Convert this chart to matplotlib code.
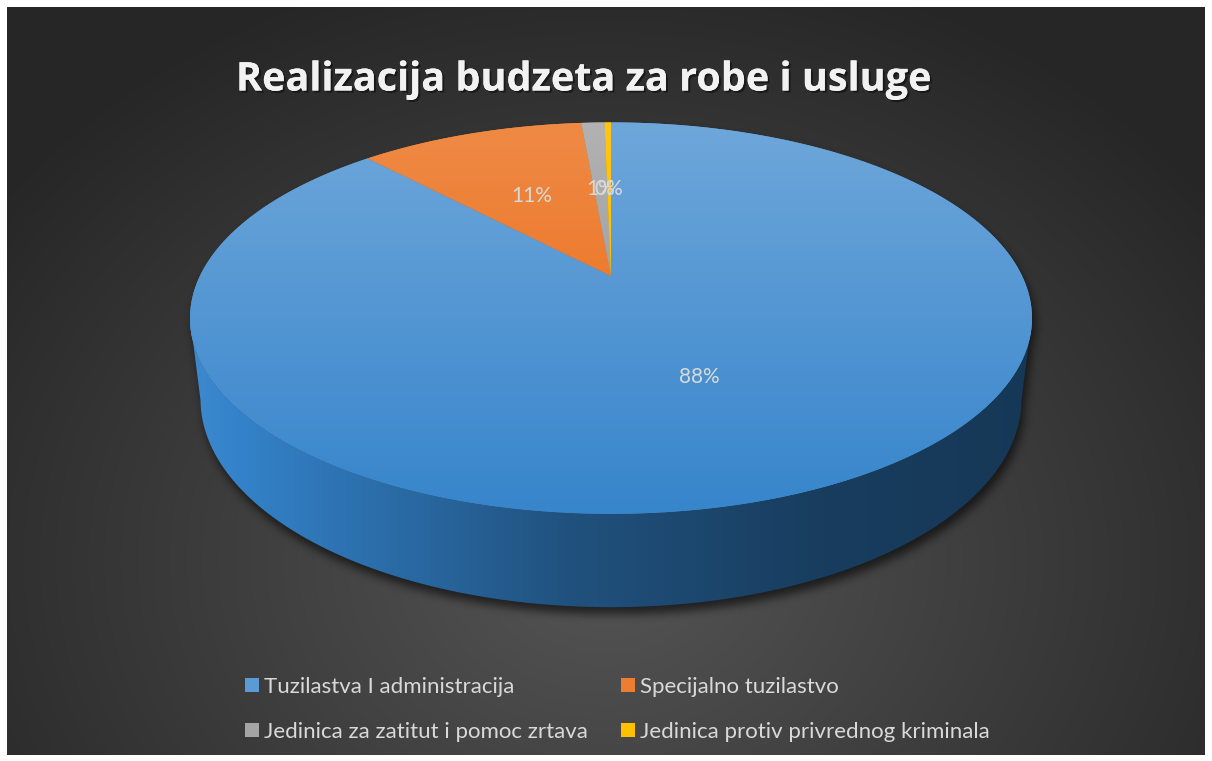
import numpy as np
import colorsys
import matplotlib
matplotlib.use('Agg')
import matplotlib.pyplot as plt
from matplotlib.path import Path
from matplotlib.patches import Polygon, Patch
from matplotlib.colors import to_rgb
import matplotlib.patheffects as pe

# ---------------- data ----------------
categories = ['Tuzilastva I administracija', 'Specijalno tuzilastvo',
              'Jedinica za zatitut i pomoc zrtava', 'Jedinica protiv privrednog kriminala']
values = [88.0, 10.6, 1.1, 0.3]
title = 'Realizacija budzeta za robe i usluge'
colors = ['#5b9bd5', '#ed7d31', '#a5a5a5', '#ffc000']

# ---------------- figure ----------------
W, Hh = 1212, 761
fig = plt.figure(figsize=(W / 100, Hh / 100), dpi=100, facecolor='white')
ax = fig.add_axes([0, 0, 1, 1])
ax.set_axis_off()

# background (radial gradient, dark)
bx0, bx1, by0, by1 = 7, 1205, 7, 755
yy, xx = np.mgrid[by0:by1, bx0:bx1]
rr = np.sqrt(((xx - 606) / 760.0) ** 2 + ((yy - 560) / 620.0) ** 2)
rr = np.clip(rr, 0, 1)
c_in, c_out = np.array(to_rgb('#555555')), np.array(to_rgb('#262626'))
bg = c_in[None, None, :] * (1 - rr[..., None]) + c_out[None, None, :] * rr[..., None]
ax.imshow(bg, extent=(bx0, bx1, by1, by0), origin='upper', aspect='auto', zorder=0,
          interpolation='bilinear')

# ---------------- 3D projection ----------------
phi = np.radians(27)
DIST = 4.14
FOC = 1702
CX, CY = 611, 276
THICK = 0.222
sp, cp = np.sin(phi), np.cos(phi)


def proj(x, y, z):
    rx, ry, rz = x, y - DIST * sp, z - DIST * cp
    yv = ry * cp - rz * sp
    depth = -ry * sp - rz * cp
    return CX + FOC * rx / depth, CY - FOC * yv / depth


def rim(theta_deg, level, r=1.0):
    t = np.radians(theta_deg)
    return proj(r * np.sin(t), level, -r * np.cos(t))


def scale_light(col, k):
    h, l, s = colorsys.rgb_to_hls(*to_rgb(col))
    return colorsys.hls_to_rgb(h, min(1, max(0, l * k)), s)


total = sum(values)
fracs = [v / total for v in values]
bounds = np.concatenate([[0], np.cumsum(fracs)]) * 360.0

# silhouette angles (front part of wall)
ts = np.linspace(0, 360, 3601)
tx, ty = rim(ts, 0.0)
th_right = ts[np.argmax(tx)]
th_left = ts[np.argmin(tx)]

full_top = np.column_stack(rim(ts, 0.0))
full_bot = np.column_stack(rim(ts, -THICK))
x_min, x_max = full_top[:, 0].min(), full_top[:, 0].max()
y_min, y_max = full_top[:, 1].min(), full_top[:, 1].max()

# ---------------- shadow ----------------
wt = np.linspace(th_right, th_left, 400)
wall_all = np.vstack([np.column_stack(rim(wt, 0.0)), np.column_stack(rim(wt[::-1], -THICK))])
gy, gx = np.mgrid[0:Hh, 0:W]
pts = np.column_stack([gx.ravel() + 0.5, gy.ravel() + 0.5])
mask = (Path(full_top).contains_points(pts) | Path(full_bot).contains_points(pts)
        | Path(wall_all).contains_points(pts)).reshape(Hh, W).astype(float)
mask = np.roll(mask, 7, axis=0)
mask = np.roll(mask, 3, axis=1)


def box1d(a, r, axis):
    a = np.moveaxis(a, axis, -1)
    p = np.pad(a, [(0, 0), (r + 1, r)], mode='edge')
    c = np.cumsum(p, axis=-1)
    out = (c[:, 2 * r + 1:] - c[:, :-2 * r - 1]) / (2 * r + 1)
    return np.moveaxis(out, -1, axis)


for _ in range(3):
    mask = box1d(mask, 4, 0)
    mask = box1d(mask, 4, 1)
shadow = np.zeros((Hh, W, 4))
shadow[..., 3] = mask * 0.6
ax.imshow(shadow, extent=(0, W, Hh, 0), origin='upper', aspect='auto', zorder=1)

# ---------------- walls ----------------
for i, col in enumerate(colors):
    a1, a2 = max(bounds[i], th_right), min(bounds[i + 1], th_left)
    if a2 <= a1:
        continue
    tt = np.linspace(a1, a2, 300)
    poly = np.vstack([np.column_stack(rim(tt, 0.0)), np.column_stack(rim(tt[::-1], -THICK))])
    patch = Polygon(poly, closed=True, facecolor='none', edgecolor='none', zorder=2)
    ax.add_patch(patch)
    u = np.linspace(0, 1, 256)
    k = np.interp(u, [0, 0.15, 0.45, 0.75, 1.0], [0.88, 0.76, 0.52, 0.39, 0.36])
    grad = np.array([scale_light(col, kk) for kk in k])[None, :, :]
    im = ax.imshow(grad, extent=(x_min - 2, x_max + 2, y_max + 120, y_min), origin='upper',
                   aspect='auto', zorder=2, interpolation='bilinear')
    im.set_clip_path(patch)

# ---------------- top faces ----------------
for i, col in enumerate(colors):
    a1, a2 = bounds[i], bounds[i + 1]
    tt = np.linspace(a1, a2, max(int((a2 - a1) * 4), 4))
    cx0, cy0 = proj(0.0, 0.0, 0.0)
    poly = np.vstack([[cx0, cy0], np.column_stack(rim(tt, 0.0))])
    patch = Polygon(poly, closed=True, facecolor=col, edgecolor='none', zorder=3)
    ax.add_patch(patch)
    v = np.linspace(0, 1, 256)
    k = 1.08 - 0.23 * v
    grad = np.array([scale_light(col, kk) for kk in k])[:, None, :]
    im = ax.imshow(grad, extent=(x_min - 2, x_max + 2, y_max, y_min), origin='upper',
                   aspect='auto', zorder=3, interpolation='bilinear')
    im.set_clip_path(patch)

# ---------------- data labels ----------------
for i, f in enumerate(fracs):
    mid = (bounds[i] + bounds[i + 1]) / 2
    lx, ly = rim(mid, 0.0, r=0.52)
    ax.text(lx, ly, f'{round(f * 100):.0f}%', ha='center', va='center', fontsize=15,
            family='Lato', color='#d9d9d9', zorder=5)

# ---------------- title ----------------
ax.text(584, 80, title, ha='center', va='center', fontsize=28.5, fontweight='bold',
        family='Open Sans', color='#f2f2f2', zorder=6,
        path_effects=[pe.withSimplePatchShadow(offset=(1.5, -1.5), shadow_rgbFace='black', alpha=0.45),
                      pe.Normal()])

# ---------------- legend ----------------
handles = [Patch(facecolor=c, edgecolor='none') for c in colors]
order = [0, 2, 1, 3]
leg = ax.legend([handles[j] for j in order], [categories[j] for j in order], ncol=2,
                loc='upper left', bbox_to_anchor=(245, 677), bbox_transform=ax.transData,
                frameon=False, borderpad=0, borderaxespad=0,
                prop={'family': 'Lato', 'size': 16},
                handlelength=0.63, handleheight=0.59, handletextpad=0.23,
                columnspacing=1.5, labelspacing=1.13)
for t in leg.get_texts():
    t.set_color('#d9d9d9')

ax.set_xlim(0, W)
ax.set_ylim(Hh, 0)
fig.savefig('out.png', dpi=100, facecolor='white')
